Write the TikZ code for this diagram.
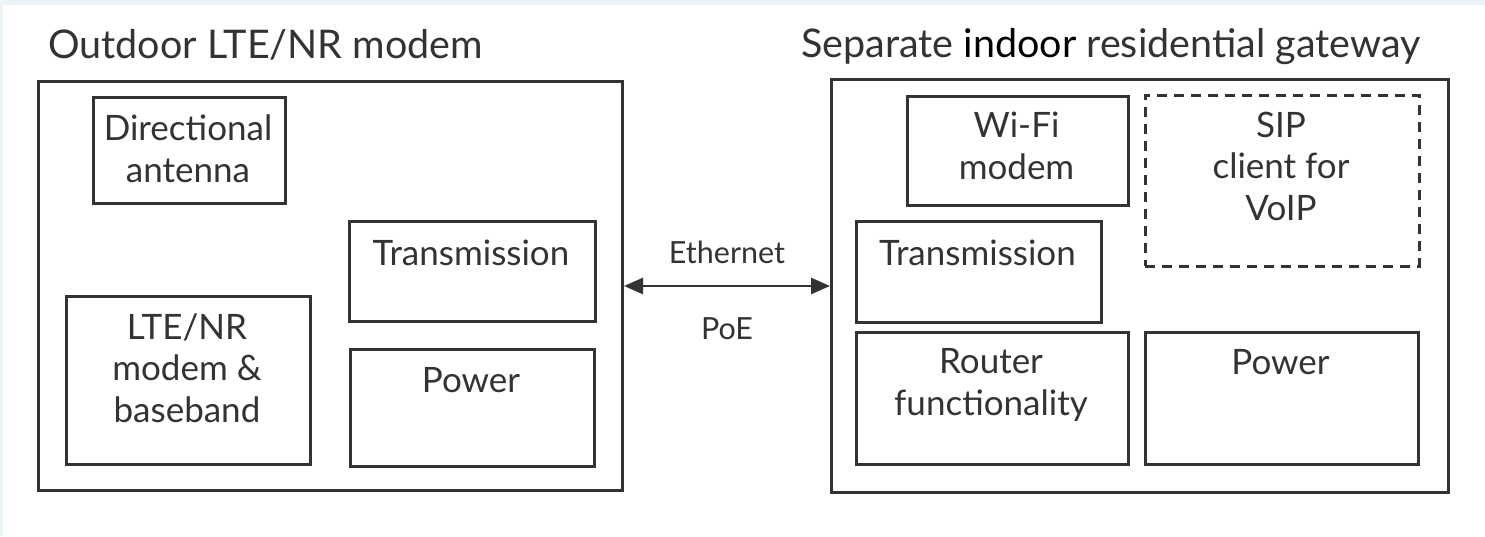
\documentclass[tikz,border=0pt]{standalone}
\usepackage{fontspec}
\setmainfont{Lato}
\usetikzlibrary{arrows.meta}
\definecolor{ink}{HTML}{333333}
\definecolor{frame}{HTML}{EDF4F8}
\tikzset{
  box/.style={draw=ink, line width=3pt, anchor=north west, inner sep=0pt},
  dbox/.style={box, line width=2.6pt, dash pattern=on 10pt off 7pt},
  lbl/.style={text=ink, align=center, anchor=base, inner sep=0pt,
    font=\fontsize{35}{41.5}\selectfont},
  slbl/.style={lbl, font=\fontsize{30.5}{36}\selectfont},
  ttl/.style={text=ink, anchor=base west, inner sep=0pt,
    font=\fontsize{39.5}{46}\selectfont},
}
\begin{document}
\begin{tikzpicture}[x=1pt,y=-1pt]
\fill[frame] (0,0) rectangle (1485,536);
\fill[white] (3,5) rectangle (1485,536);
\useasboundingbox (0,0) rectangle (1485,536);
% titles
\node[ttl] (t1) at (48,58) {Outdoor LTE/NR modem};
\node[ttl] (t2) at (801,57) {Separate \textcolor{black}{indoor} residential gateway};
% left outer
\node[box, minimum width=584pt, minimum height=409pt] (lo) at (37,80) {};
\node[box, minimum width=192pt, minimum height=106pt] (ant) at (92,96) {};
\node[lbl] (antl) at (188,182) {Directional\\antenna};
\node[box, minimum width=246pt, minimum height=100pt] (ltr) at (348,220) {};
\node[lbl] (ltrl) at (471,265) {Transmission};
\node[box, minimum width=244pt, minimum height=168pt] (lte) at (65,295) {};
\node[lbl] (ltel) at (187,422) {LTE/NR\\modem \&\\baseband};
\node[box, minimum width=244pt, minimum height=117pt] (lpw) at (349,348) {};
\node[lbl] (lpwl) at (471,392) {Power};
% right outer
\node[box, minimum width=617pt, minimum height=413pt] (ro) at (830,78) {};
\node[box, minimum width=221pt, minimum height=109pt] (wifi) at (906,95) {};
\node[lbl] (wifil) at (1016.5,179) {Wi-Fi\\modem};
\node[dbox, minimum width=274pt, minimum height=171pt] (sip) at (1144,94) {};
\node[lbl] (sipl) at (1281,220) {SIP\\client for\\VoIP};
\node[box, minimum width=245pt, minimum height=101pt] (rtr) at (855,220) {};
\node[lbl] (rtrl) at (977.5,265) {Transmission};
\node[box, minimum width=272pt, minimum height=132pt] (rout) at (855,331) {};
\node[lbl] (routl) at (991,415) {Router\\functionality};
\node[box, minimum width=273pt, minimum height=132pt] (rpw) at (1144,331) {};
\node[lbl] (rpwl) at (1280.5,374) {Power};
% link
\draw[ink, line width=2.6pt, {Triangle[length=19pt,width=16pt]}-{Triangle[length=19pt,width=16pt]}] (lo.east) -- (ro.west)
  node[slbl, pos=0.5, anchor=base, yshift=22.5pt] (eth) {Ethernet}
  node[slbl, pos=0.5, anchor=base, yshift=-53.5pt] (poe) {PoE};
\end{tikzpicture}
\end{document}
